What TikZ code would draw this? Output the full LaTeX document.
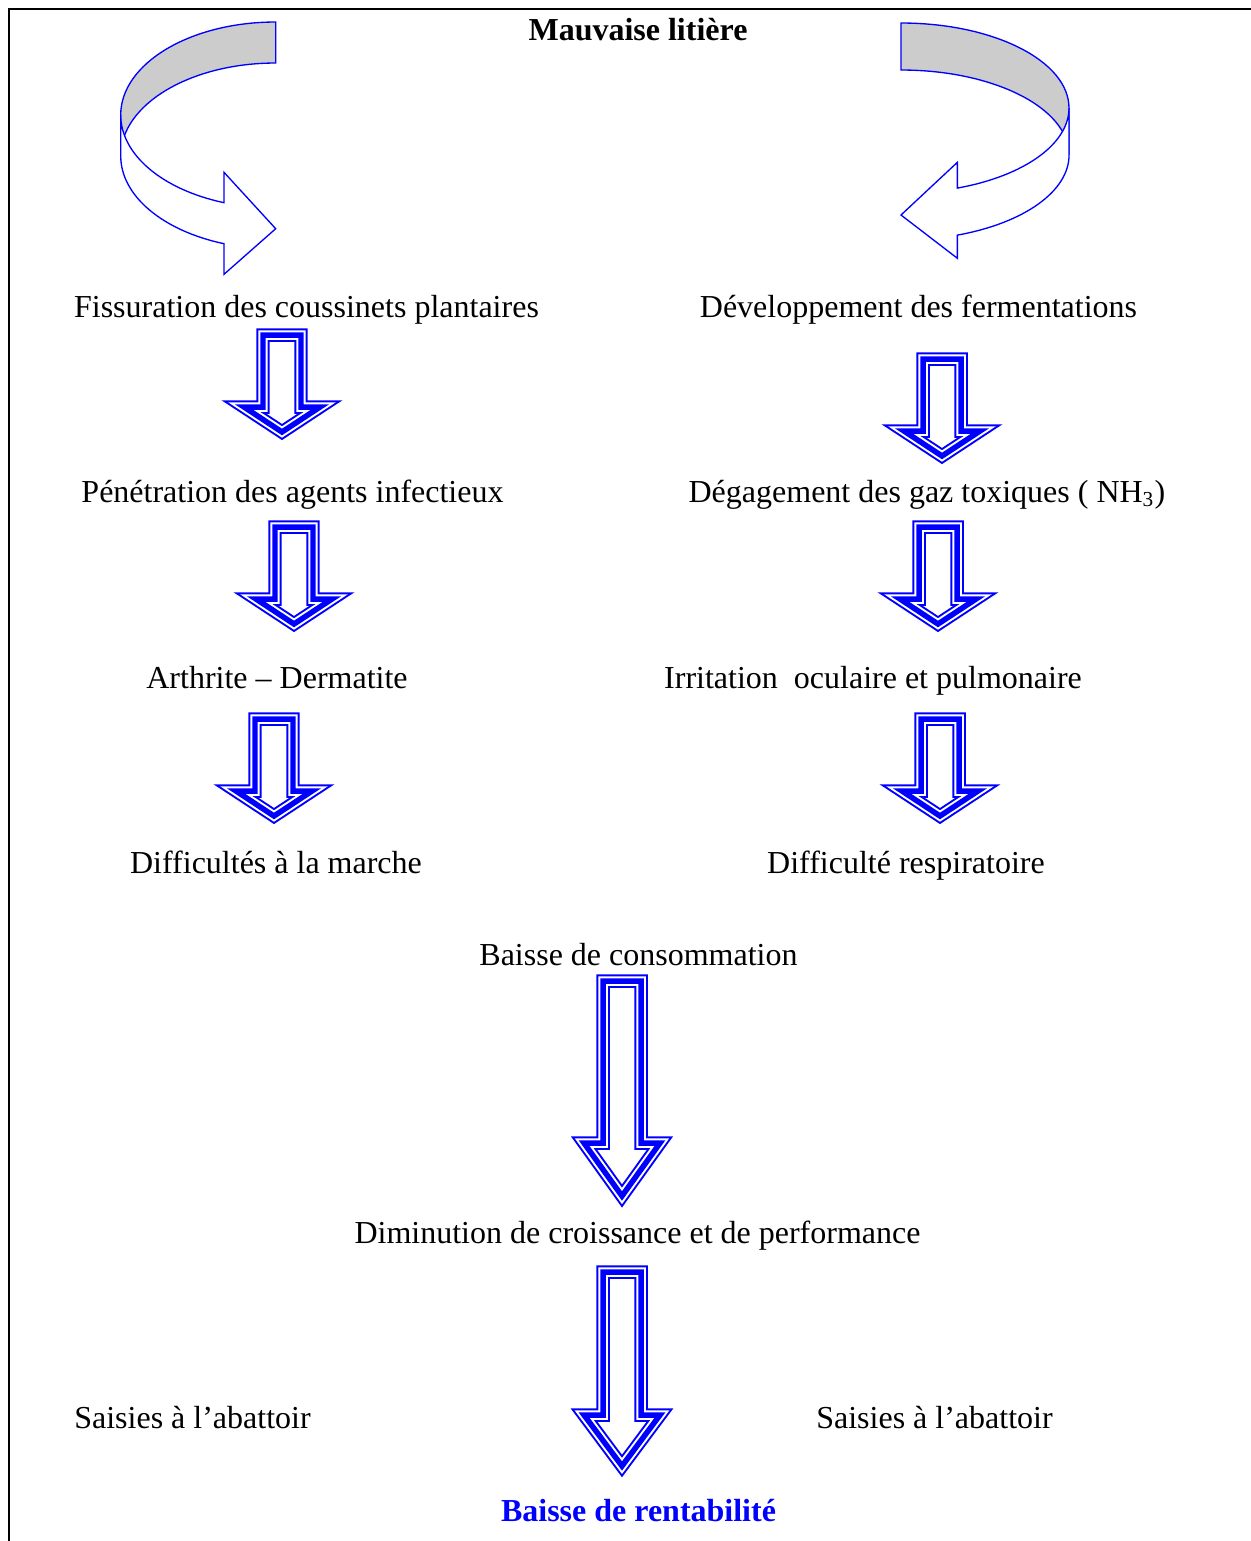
\documentclass[tikz,border=0pt]{standalone}
\usepackage{fontspec}
\setmainfont{Liberation Serif}
\tikzset{
txt/.style={
  anchor=base,
  font=\fontsize{12}{14}\selectfont
  },
titre/.style={
  txt,
  font=\fontsize{12}{14}\selectfont\bfseries
  },
triple/.style={
  draw=white,line width=3.56pt,
  preaction={draw=blue,line width=5.06pt},
  postaction={draw=blue,line width=2.06pt}
  },
ruban/.style={
  draw=blue,line width=0.5pt
  }
}
% block arrow: centre x, top, shoulder, tip, half width of the head
\newcommand\fleche[5]{%
\draw[triple] (#1-19,#2) -- (#1+19,#2) -- (#1+19,#3) -- (#1+#5,#3)
  -- (#1,#4) -- (#1-#5,#3) -- (#1-19,#3) -- cycle;}

\begin{document}
\begin{tikzpicture}[x=0.375pt,y=-0.375pt]
\useasboundingbox (0,0) rectangle (1251,1541);
\draw[line width=0.75pt] (9,1541) -- (9,9) -- (1251,9);

\node[titre] (litiere) at (638,40) {Mauvaise litière};

% curved arrows
\draw[ruban,fill=black!20] (275.7,22)
  arc[start angle=-90,end angle=-180,x radius=155,y radius=93]
  -- (120.7,156)
  arc[start angle=180,end angle=270,x radius=155,y radius=93] -- cycle;
\draw[ruban,fill=white] (120.7,115)
  arc[start angle=180,end angle=109.5,x radius=155,y radius=93]
  -- (224,172.3) -- (275.7,228.7) -- (224,274.3) -- (224,243.7)
  arc[start angle=109.5,end angle=180,x radius=155,y radius=93] -- cycle;

\draw[ruban,fill=black!20] (901,23)
  arc[start angle=-90,end angle=0,x radius=168,y radius=85]
  -- (1069,155)
  arc[start angle=0,end angle=-90,x radius=168,y radius=85] -- cycle;
\draw[ruban,fill=white] (1069,108)
  arc[start angle=0,end angle=70.4,x radius=168,y radius=85]
  -- (957.4,162.3) -- (901,215) -- (957.4,258.3) -- (957.4,235.1)
  arc[start angle=70.4,end angle=0,x radius=168,y radius=85] -- cycle;

\node[txt] (fiss) at (306.5,317) {Fissuration des coussinets plantaires};
\node[txt] (ferm) at (918.5,317) {Développement des fermentations};
\node[txt] (pene) at (292.5,502) {Pénétration des agents infectieux};
\node[txt] (gaz) at (927,502) {Dégagement des gaz toxiques ( NH\textsubscript{3})};
\node[txt] (arth) at (277,688) {Arthrite -- Dermatite};
\node[txt] (irri) at (873,688) {Irritation\ \ oculaire et pulmonaire};
\node[txt] (marche) at (276,873) {Difficultés à la marche};
\node[txt] (resp) at (906,873) {Difficulté respiratoire};
\node[txt] (conso) at (638.5,965) {Baisse de consommation};
\node[txt] (crois) at (637.5,1243) {Diminution de croissance et de performance};
\node[txt] (saisieg) at (192.5,1428) {Saisies à l’abattoir};
\node[txt] (saisied) at (934.5,1428) {Saisies à l’abattoir};
\node[titre,text=blue] (renta) at (638.5,1521) {Baisse de rentabilité};

\fleche{282}{335}{407}{432}{38}
\fleche{942}{359}{431}{456}{38}
\fleche{294}{527}{599}{624}{38}
\fleche{938}{527}{599}{624}{38}
\fleche{274}{719}{791}{816}{38}
\fleche{940}{719}{791}{816}{38}
\fleche{622}{981}{1143}{1196}{38}
\fleche{622}{1272}{1415}{1466}{38}

\end{tikzpicture}
\end{document}
